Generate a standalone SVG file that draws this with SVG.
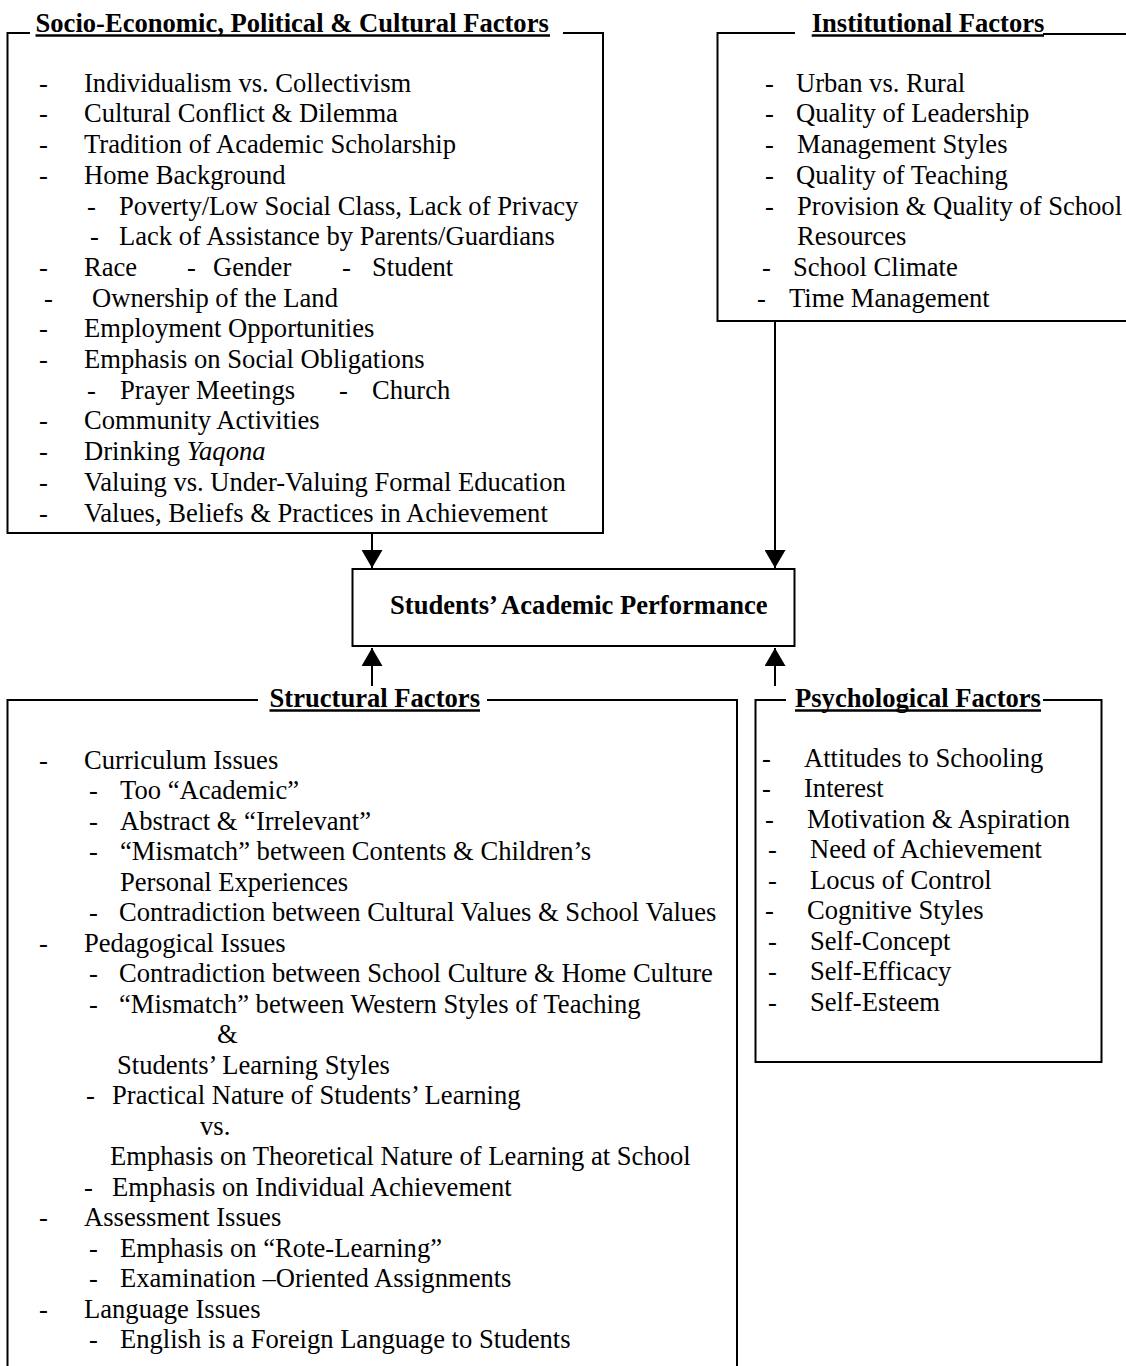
<svg xmlns="http://www.w3.org/2000/svg" width="1126" height="1366" viewBox="0 0 1126 1366">
<style>
text{font-family:"Liberation Serif","Times New Roman",serif;font-size:26.6px;fill:#000}
.h,.b{font-weight:bold}
.ul{stroke:#000;stroke-width:2.5}
.box{fill:none;stroke:#000;stroke-width:2}
.con{fill:none;stroke:#000;stroke-width:2}
</style>
<defs>
<marker id="ah" markerUnits="userSpaceOnUse" markerWidth="19" markerHeight="21" refX="18" refY="10.5" orient="auto">
<path d="M0,0 L18,10.5 L0,21 z" fill="#000"/>
</marker>
</defs>
<rect width="1126" height="1366" fill="#fff"/>

<g id="socio">
<path class="box" d="M30,33 H7.5 V533 H603 V33 H563"/>
<text class="h" x="35.5" y="32">Socio-Economic, Political &amp; Cultural Factors</text>
<line class="ul" x1="35.5" y1="35.5" x2="550" y2="35.5"/>
<text x="39" y="91.7">-</text><text x="84" y="91.7">Individualism vs. Collectivism</text>
<text x="39" y="122.4">-</text><text x="84" y="122.4">Cultural Conflict &amp; Dilemma</text>
<text x="39" y="153.1">-</text><text x="84" y="153.1">Tradition of Academic Scholarship</text>
<text x="39" y="183.8">-</text><text x="84" y="183.8">Home Background</text>
<text x="87" y="214.5">-</text><text x="119" y="214.5">Poverty/Low Social Class, Lack of Privacy</text>
<text x="90" y="245.2">-</text><text x="119" y="245.2">Lack of Assistance by Parents/Guardians</text>
<text x="39" y="275.9">-</text><text x="84" y="275.9">Race</text><text x="187" y="275.9">-</text><text x="213" y="275.9">Gender</text><text x="342" y="275.9">-</text><text x="372" y="275.9">Student</text>
<text x="44" y="306.6">-</text><text x="92" y="306.6">Ownership of the Land</text>
<text x="39" y="337.3">-</text><text x="84" y="337.3">Employment Opportunities</text>
<text x="39" y="368">-</text><text x="84" y="368">Emphasis on Social Obligations</text>
<text x="87" y="398.7">-</text><text x="120" y="398.7">Prayer Meetings</text><text x="339" y="398.7">-</text><text x="372" y="398.7">Church</text>
<text x="39" y="429.4">-</text><text x="84" y="429.4">Community Activities</text>
<text x="39" y="460.1">-</text><text x="84" y="460.1">Drinking <tspan font-style="italic">Yaqona</tspan></text>
<text x="39" y="490.8">-</text><text x="84" y="490.8">Valuing vs. Under-Valuing Formal Education</text>
<text x="39" y="521.5">-</text><text x="84" y="521.5">Values, Beliefs &amp; Practices in Achievement</text>
</g>

<g id="institutional">
<path class="box" d="M795,33 H717.5 V321 H1126"/>
<path class="box" d="M1043,34 H1126"/>
<text class="h" x="811.7" y="32">Institutional Factors</text>
<line class="ul" x1="811.7" y1="35.5" x2="1044" y2="35.5"/>
<text x="765" y="91.7">-</text><text x="796" y="91.7">Urban vs. Rural</text>
<text x="765" y="122.4">-</text><text x="796" y="122.4">Quality of Leadership</text>
<text x="765" y="153.1">-</text><text x="797" y="153.1">Management Styles</text>
<text x="765" y="183.8">-</text><text x="796" y="183.8">Quality of Teaching</text>
<text x="765" y="214.5">-</text><text x="797" y="214.5">Provision &amp; Quality of School</text>
<text x="797" y="245.2">Resources</text>
<text x="762" y="275.9">-</text><text x="793" y="275.9">School Climate</text>
<text x="757" y="306.6">-</text><text x="789" y="306.6">Time Management</text>
</g>

<g id="performance">
<rect class="box" x="352.5" y="569" width="442" height="77"/>
<text class="b" x="390" y="614">Students’ Academic Performance</text>
</g>

<g id="structural">
<path class="box" d="M258,700 H7.5 V1366"/>
<path class="box" d="M487,700 H737 V1366"/>
<text class="h" x="269.5" y="707">Structural Factors</text>
<line class="ul" x1="269.5" y1="710.5" x2="480" y2="710.5"/>
<text x="39" y="768.5">-</text><text x="84" y="768.5">Curriculum Issues</text>
<text x="89" y="799">-</text><text x="120" y="799">Too “Academic”</text>
<text x="89" y="829.5">-</text><text x="120" y="829.5">Abstract &amp; “Irrelevant”</text>
<text x="89" y="860">-</text><text x="120" y="860">“Mismatch” between Contents &amp; Children’s</text>
<text x="120" y="890.5">Personal Experiences</text>
<text x="89" y="921">-</text><text x="119" y="921">Contradiction between Cultural Values &amp; School Values</text>
<text x="39" y="951.5">-</text><text x="84" y="951.5">Pedagogical Issues</text>
<text x="89" y="982">-</text><text x="119" y="982">Contradiction between School Culture &amp; Home Culture</text>
<text x="89" y="1012.5">-</text><text x="119" y="1012.5">“Mismatch” between Western Styles of Teaching</text>
<text x="217" y="1043">&amp;</text>
<text x="117" y="1073.5">Students’ Learning Styles</text>
<text x="86" y="1104">-</text><text x="112" y="1104">Practical Nature of Students’ Learning</text>
<text x="200" y="1134.5">vs.</text>
<text x="110" y="1165">Emphasis on Theoretical Nature of Learning at School</text>
<text x="84" y="1195.5">-</text><text x="112" y="1195.5">Emphasis on Individual Achievement</text>
<text x="39" y="1226">-</text><text x="84" y="1226">Assessment Issues</text>
<text x="89" y="1256.5">-</text><text x="120" y="1256.5">Emphasis on “Rote-Learning”</text>
<text x="89" y="1287">-</text><text x="120" y="1287">Examination –Oriented Assignments</text>
<text x="39" y="1317.5">-</text><text x="84" y="1317.5">Language Issues</text>
<text x="89" y="1348">-</text><text x="120" y="1348">English is a Foreign Language to Students</text>
</g>

<g id="psychological">
<path class="box" d="M786,700 H755.5 V1062 H1101.5 V700 H1043"/>
<text class="h" x="795" y="707">Psychological Factors</text>
<line class="ul" x1="795" y1="710.5" x2="1041" y2="710.5"/>
<text x="762" y="766.5">-</text><text x="804" y="766.5">Attitudes to Schooling</text>
<text x="762" y="797">-</text><text x="804" y="797">Interest</text>
<text x="765" y="827.5">-</text><text x="807" y="827.5">Motivation &amp; Aspiration</text>
<text x="768" y="858">-</text><text x="810" y="858">Need of Achievement</text>
<text x="768" y="888.5">-</text><text x="810" y="888.5">Locus of Control</text>
<text x="765" y="919">-</text><text x="807" y="919">Cognitive Styles</text>
<text x="768" y="949.5">-</text><text x="810" y="949.5">Self-Concept</text>
<text x="768" y="980">-</text><text x="810" y="980">Self-Efficacy</text>
<text x="768" y="1010.5">-</text><text x="810" y="1010.5">Self-Esteem</text>
</g>

<g id="connectors">
<line class="con" x1="372" y1="533" x2="372" y2="568" marker-end="url(#ah)"/>
<line class="con" x1="775" y1="321" x2="775" y2="568" marker-end="url(#ah)"/>
<line class="con" x1="372" y1="686" x2="372" y2="648" marker-end="url(#ah)"/>
<line class="con" x1="775" y1="686" x2="775" y2="648" marker-end="url(#ah)"/>
</g>
</svg>
